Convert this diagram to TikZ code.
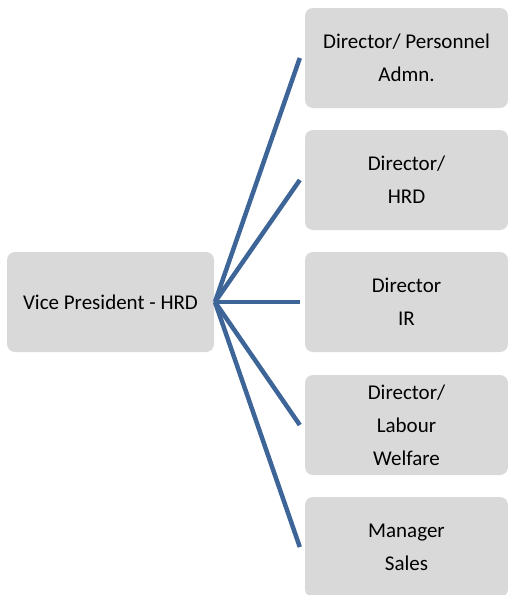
\documentclass[tikz,border=0pt]{standalone}
\usepackage{fontspec}
\setmainfont{Carlito}
\definecolor{boxgray}{HTML}{D9D9D9}
\definecolor{linkblue}{HTML}{3D6598}
\begin{document}
\begin{tikzpicture}[x=1pt,y=-1pt,
  orgbox/.style={rectangle, rounded corners=8pt, fill=boxgray, draw=none,
    minimum width=203pt, minimum height=100pt, align=center, inner sep=2pt,
    font=\fontsize{21}{33}\selectfont},
  link/.style={draw=linkblue, line width=4.5pt}]
  \useasboundingbox (0,0) rectangle (508,595);

  % root box
  \node[orgbox, minimum width=207pt] (vp) at (110.5,302) {Vice President - HRD};

  % reporting boxes
  \node[orgbox] (d1) at (406.5,58)  {Director/ Personnel\\Admn.};
  \node[orgbox] (d2) at (406.5,180) {Director/\\HRD};
  \node[orgbox] (d3) at (406.5,302) {Director\\IR};
  \node[orgbox] (d4) at (406.5,425) {Director/\\Labour\\Welfare};
  \node[orgbox] (d5) at (406.5,547) {Manager\\Sales};

  % connector ends just left of each box
  \coordinate (hub) at (215,302);
  \foreach \n in {1,...,5}{
    \coordinate (e\n) at ([xshift=-5pt]d\n.west);
    \draw[link] (hub) -- (e\n);
  }
\end{tikzpicture}
\end{document}
